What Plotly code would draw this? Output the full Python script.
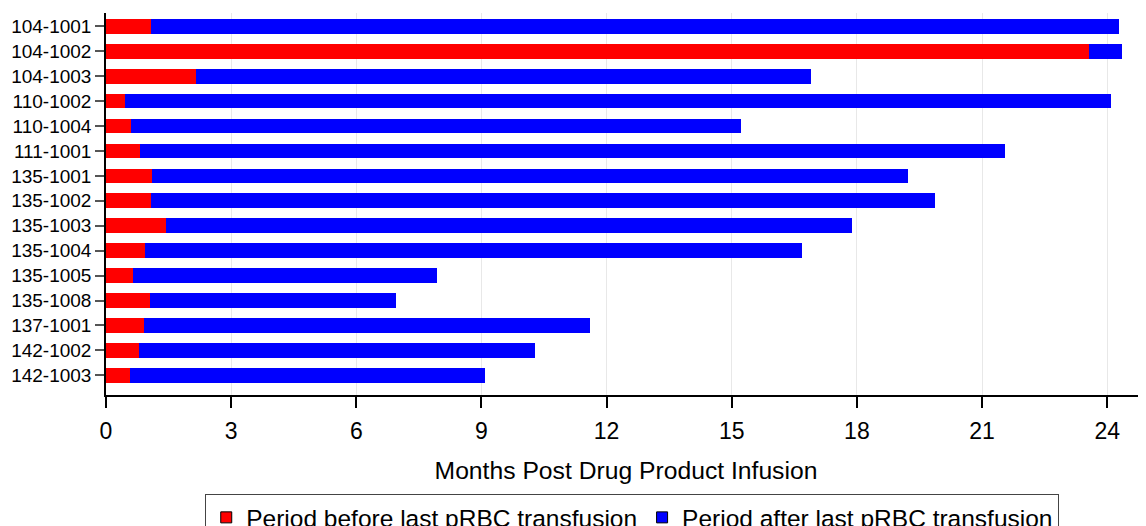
import plotly.graph_objects as go

subjects = ["104-1001", "104-1002", "104-1003", "110-1002", "110-1004",
            "111-1001", "135-1001", "135-1002", "135-1003", "135-1004",
            "135-1005", "135-1008", "137-1001", "142-1002", "142-1003"]
# months before last pRBC transfusion
before_months = [1.08, 23.57, 2.15, 0.46, 0.60,
                 0.81, 1.10, 1.08, 1.44, 0.93,
                 0.65, 1.05, 0.90, 0.78, 0.57]
# total follow-up months
total_months = [24.29, 24.36, 16.91, 24.10, 15.21,
                21.56, 19.23, 19.86, 17.89, 16.69,
                7.93, 6.95, 11.59, 10.28, 9.08]
after_months = [round(t - b, 2) for t, b in zip(total_months, before_months)]

x_ticks = [0, 3, 6, 9, 12, 15, 18, 21, 24]

RED = "#FF0000"
BLUE = "#0000FF"
FONT = "Liberation Sans, Arial, sans-serif"

fig = go.Figure()
fig.add_trace(go.Bar(y=subjects, x=before_months, orientation="h",
                     marker=dict(color=RED, line=dict(width=0)), width=0.59,
                     showlegend=False, name="Period before last pRBC transfusion"))
fig.add_trace(go.Bar(y=subjects, x=after_months, orientation="h",
                     marker=dict(color=BLUE, line=dict(width=0)), width=0.59,
                     showlegend=False, name="Period after last pRBC transfusion"))
# legend entries
fig.add_trace(go.Scatter(x=[None], y=[None], mode="markers",
                         marker=dict(symbol="square", size=11, color=RED,
                                     line=dict(color="black", width=1)),
                         name="Period before last pRBC transfusion"))
fig.add_trace(go.Scatter(x=[None], y=[None], mode="markers",
                         marker=dict(symbol="square", size=11, color=BLUE,
                                     line=dict(color="black", width=1)),
                         name="Period after last pRBC transfusion"))

fig.update_layout(
    barmode="stack",
    width=1138, height=518,
    margin=dict(l=98, r=0, t=5, b=131, autoexpand=False),
    plot_bgcolor="white", paper_bgcolor="white",
    font=dict(family=FONT, color="black", size=22),
    legend=dict(orientation="h", x=0.506, xanchor="center", y=-0.259, yanchor="top",
                bordercolor="#444444", borderwidth=1, traceorder="normal",
                font=dict(size=24.5, family=FONT), itemwidth=30,
                tracegroupgap=0),
    xaxis=dict(range=[0, 24.93], tickvals=x_ticks, ticktext=[str(v) for v in x_ticks],
               showgrid=True, gridcolor="#e8e8e8", gridwidth=1,
               showline=True, linecolor="black", linewidth=1.5,
               ticks="outside", ticklen=11, tickcolor="black", tickwidth=1.5,
               tickfont=dict(size=23, family=FONT), ticklabelstandoff=4,
               zeroline=False, automargin=False,
               title=dict(text="Months Post Drug Product Infusion",
                          font=dict(size=24.7, family=FONT), standoff=18)),
    yaxis=dict(type="category", categoryorder="array", categoryarray=subjects,
               range=[14.79, -0.533], automargin=False,
               showgrid=False, showline=True, linecolor="black", linewidth=1.5,
               ticks="outside", ticklen=9, tickcolor="#555555", tickwidth=1.5,
               tickfont=dict(size=19, family=FONT)),
)

fig.write_html("out.html")
